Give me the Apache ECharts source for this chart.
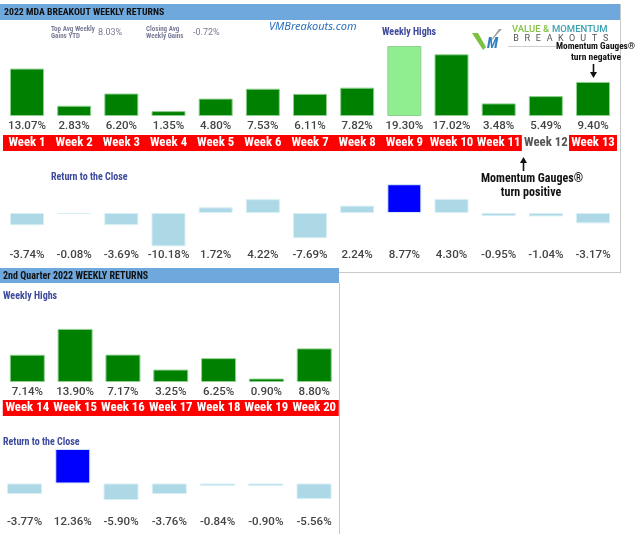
<!DOCTYPE html>
<html><head><meta charset="utf-8">
<script src="https://cdn.jsdelivr.net/npm/echarts@6/dist/echarts.min.js"></script>
<style>html,body{margin:0;padding:0;background:#fff}#c{width:640px;height:534px}</style>
</head><body><div id="c"></div>
<script>
// ---- data ----
const weeksQ1 = ['Week 1','Week 2','Week 3','Week 4','Week 5','Week 6','Week 7','Week 8','Week 9','Week 10','Week 11','Week 12','Week 13'];
const highsQ1 = [13.07, 2.83, 6.20, 1.35, 4.80, 7.53, 6.11, 7.82, 19.30, 17.02, 3.48, 5.49, 9.40];
const closeQ1 = [-3.74, -0.08, -3.69, -10.18, 1.72, 4.22, -7.69, 2.24, 8.77, 4.30, -0.95, -1.04, -3.17];
const weeksQ2 = ['Week 14','Week 15','Week 16','Week 17','Week 18','Week 19','Week 20'];
const highsQ2 = [7.14, 13.90, 7.17, 3.25, 6.25, 0.90, 8.80];
const closeQ2 = [-3.77, 12.36, -5.90, -3.76, -0.84, -0.90, -5.56];
const highlightHighsQ1 = ['Week 9'];
const highlightCloseQ1 = ['Week 9'];
const highlightHighsQ2 = [];
const highlightCloseQ2 = ['Week 15'];
const plainWeeks = ['Week 12'];
const topAvgWeeklyGains = '8.03%';
const closingAvgWeeklyGains = '-0.72%';

// ---- styles ----
const GREEN = '#008000', LGREEN = '#90ee90', LBLUE = '#add8e6', BLUE = '#0000ff';
const NARROW = "'Liberation Sans Narrow','Roboto Condensed',Roboto,sans-serif";
const NUMFONT = "Roboto, sans-serif";
const TITLEBLUE = '#3d4a9c';

const pct = v => v.toFixed(2) + '%';
function barData(weeks, vals, hl, base, hi) {
  return vals.map((v, i) => ({
    value: v,
    itemStyle: { color: hl.includes(weeks[i]) ? hi : base }
  }));
}
function valueAxisLabels(grid, weeks, vals, margin) {
  return {
    gridIndex: grid, type: 'category', data: weeks, position: 'bottom',
    axisLine: { show: false }, axisTick: { show: false }, splitLine: { show: false },
    axisLabel: { interval: 0, margin: margin, color: '#444', fontSize: 11.5, fontWeight: 500, fontFamily: NUMFONT,
      formatter: (v, i) => pct(vals[i]) }
  };
}
function weekAxis(grid, weeks, offset, margin, w) {
  return {
    gridIndex: grid, type: 'category', data: weeks, position: 'bottom', offset: offset,
    axisLine: { show: false }, axisTick: { show: false }, splitLine: { show: false },
    axisLabel: { interval: 0, margin: margin,
      formatter: v => plainWeeks.includes(v) ? '{w|' + v + '}' : '{r|' + v + '}',
      rich: {
        r: { color: '#fff', backgroundColor: '#ff0000', fontWeight: 'bold', fontSize: 12.8, fontFamily: NARROW,
             width: w, height: 16, lineHeight: 16, align: 'center' },
        w: { color: '#555', backgroundColor: '#fff', fontWeight: 'bold', fontSize: 12.8, fontFamily: NARROW,
             width: w, height: 16, lineHeight: 16, align: 'center' }
      } }
  };
}
const yA = (g, min, max) => ({ gridIndex: g, type: 'value', min, max, show: false, splitLine: { show: false } });
const barS = (x, y, data, bw, border) => ({
  type: 'bar', xAxisIndex: x, yAxisIndex: y, data, barWidth: bw, barMinHeight: 1,
  itemStyle: { borderColor: border, borderWidth: 1 }, animation: false, silent: true
});

const txt = (x, y, text, o) => ({ type: 'text', z: 10, style: Object.assign({ x, y, text,
  align: 'left', verticalAlign: 'middle', fill: '#222', fontSize: 10, fontFamily: NUMFONT }, o || {}) });

const breakoutLetters = 'BREAKOUTS'.split('').map((ch, i) =>
  txt(516 + i * 11.2, 38.5, ch, { align: 'center', fontFamily: NUMFONT, fontSize: 9, fill: '#555' }));

const graphic = [
  // panel frames
  { type: 'line', z: 1, shape: { x1: 620.5, y1: 4, x2: 620.5, y2: 272 }, style: { stroke: '#c9c9c9', lineWidth: 1 } },
  { type: 'line', z: 1, shape: { x1: 339, y1: 272.5, x2: 621, y2: 272.5 }, style: { stroke: '#c9c9c9', lineWidth: 1 } },
  { type: 'line', z: 1, shape: { x1: 339.5, y1: 283, x2: 339.5, y2: 534 }, style: { stroke: '#c9c9c9', lineWidth: 1 } },
  // header bars
  { type: 'rect', z: 1, shape: { x: 0, y: 4, width: 620, height: 16 }, style: { fill: '#6fa8dc' } },
  { type: 'rect', z: 1, shape: { x: 0, y: 268, width: 339, height: 15 }, style: { fill: '#6fa8dc' } },
  txt(4, 13, '2022 MDA BREAKOUT WEEKLY RETURNS', { fontFamily: NARROW, fontWeight: 'bold', fontSize: 9.8, fill: '#111' }),
  txt(3, 276, '2nd Quarter 2022 WEEKLY RETURNS', { fontFamily: NARROW, fontWeight: 'bold', fontSize: 10, fill: '#111' }),
  // stats
  txt(51, 29, 'Top Avg Weekly', { fontFamily: NARROW, fontWeight: 'bold', fontSize: 7, fill: '#7a7e98' }),
  txt(51, 36.5, 'Gains YTD', { fontFamily: NARROW, fontWeight: 'bold', fontSize: 7, fill: '#7a7e98' }),
  txt(98, 32.5, topAvgWeeklyGains, { fontSize: 9, fill: '#777a90' }),
  txt(146, 29, 'Closing Avg', { fontFamily: NARROW, fontWeight: 'bold', fontSize: 7, fill: '#7a7e98' }),
  txt(146, 36.5, 'Weekly Gains', { fontFamily: NARROW, fontWeight: 'bold', fontSize: 7, fill: '#7a7e98' }),
  txt(193, 32.5, closingAvgWeeklyGains, { fontSize: 9, fill: '#777a90' }),
  txt(269, 27, 'VMBreakouts.com', { fontFamily: "'Noto Sans', sans-serif", fontStyle: 'italic', fontSize: 11, fill: '#2a6fbd' }),
  // section titles
  txt(382, 32.5, 'Weekly Highs', { fontFamily: NARROW, fontWeight: 'bold', fontSize: 10, fill: TITLEBLUE }),
  txt(51, 177, 'Return to the Close', { fontFamily: NARROW, fontWeight: 'bold', fontSize: 10, fill: TITLEBLUE }),
  txt(3, 296, 'Weekly Highs', { fontFamily: NARROW, fontWeight: 'bold', fontSize: 10, fill: TITLEBLUE }),
  txt(3, 442, 'Return to the Close', { fontFamily: NARROW, fontWeight: 'bold', fontSize: 10, fill: TITLEBLUE }),
  // logo
  { type: 'polygon', z: 5, shape: { points: [[472,33],[478,33],[486,47],[483,50]] }, style: { fill: '#7cc242' } },
  { type: 'polygon', z: 5, shape: { points: [[483,50],[486,47],[499,29],[502,29]] }, style: { fill: '#a0a0a0' } },
  txt(487, 44, 'M', { fontFamily: NARROW, fontStyle: 'italic', fontWeight: 'bold', fontSize: 15, fill: '#2f7fc1' }),
  txt(512, 30, 'VALUE &', { fontFamily: NUMFONT, fontWeight: 500, fontSize: 9.5, fill: '#84c247' }),
  txt(552, 30, 'MOMENTUM', { fontFamily: NUMFONT, fontWeight: 500, fontSize: 9.5, fill: '#3a9fb2' }),
  ...breakoutLetters,
  { type: 'line', z: 5, shape: { x1: 508, y1: 46.5, x2: 556, y2: 46.5 }, style: { stroke: '#d0d0d0', lineWidth: 1 } },
  // annotations
  txt(556, 47, 'Momentum Gauges®', { fontFamily: NARROW, fontWeight: 'bold', fontSize: 9.3, fill: '#111' }),
  txt(596, 58, 'turn negative', { align: 'center', fontFamily: NARROW, fontWeight: 'bold', fontSize: 9.5, fill: '#111' }),
  { type: 'line', z: 5, shape: { x1: 593.5, y1: 64, x2: 593.5, y2: 73 }, style: { stroke: '#111', lineWidth: 1.6 } },
  { type: 'polygon', z: 5, shape: { points: [[590,72],[597,72],[593.5,78]] }, style: { fill: '#111' } },
  { type: 'line', z: 5, shape: { x1: 523.5, y1: 162, x2: 523.5, y2: 171 }, style: { stroke: '#111', lineWidth: 1.6 } },
  { type: 'polygon', z: 5, shape: { points: [[520,163],[527,163],[523.5,157]] }, style: { fill: '#111' } },
  txt(532, 178.5, 'Momentum Gauges®', { align: 'center', fontFamily: NARROW, fontWeight: 'bold', fontSize: 12, fill: '#111' }),
  txt(531, 192.5, 'turn positive', { align: 'center', fontFamily: NARROW, fontWeight: 'bold', fontSize: 12, fill: '#111' })
];

const option = {
  backgroundColor: '#fff',
  animation: false,
  grid: [
    { left: 3.4, top: 43.5, width: 613.2, height: 72.5, containLabel: false },
    { left: 3.4, top: 180.2, width: 613.2, height: 67.2, containLabel: false },
    { left: 0.4, top: 324.7, width: 337.75, height: 57.3, containLabel: false },
    { left: 0.4, top: 447.1, width: 337.75, height: 54.6, containLabel: false }
  ],
  xAxis: [
    valueAxisLabels(0, weeksQ1, highsQ1, 4),
    weekAxis(0, weeksQ1, 17, 2, 48),
    valueAxisLabels(1, weeksQ1, closeQ1, 2),
    valueAxisLabels(2, weeksQ2, highsQ2, 4),
    weekAxis(2, weeksQ2, 17, 1, 49),
    valueAxisLabels(3, weeksQ2, closeQ2, 14)
  ],
  yAxis: [ yA(0, 0, 20), yA(1, -10.5, 10), yA(2, 0, 15), yA(3, -6.5, 13) ],
  series: [
    barS(0, 0, barData(weeksQ1, highsQ1, highlightHighsQ1, GREEN, LGREEN), 34, '#8fd08f'),
    barS(2, 1, barData(weeksQ1, closeQ1, highlightCloseQ1, LBLUE, BLUE), 34, '#d8eef5'),
    barS(3, 2, barData(weeksQ2, highsQ2, highlightHighsQ2, GREEN, LGREEN), 35, '#8fd08f'),
    barS(5, 3, barData(weeksQ2, closeQ2, highlightCloseQ2, LBLUE, BLUE), 35, '#d8eef5')
  ],
  graphic: graphic
};
const chart = echarts.init(document.getElementById('c'), null, { renderer: 'canvas' });
chart.setOption(option);
</script></body></html>
